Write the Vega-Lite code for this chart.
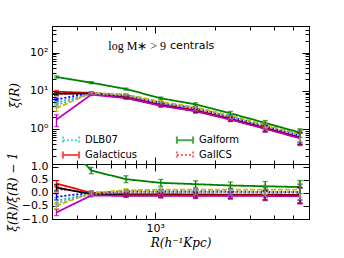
{
  "$schema": "https://vega.github.io/schema/vega-lite/v6.json",
  "padding": {"left": 5, "top": 25, "right": 35, "bottom": 5},
  "background": "white",
  "spacing": 0,
  "bounds": "flush",
  "datasets": {
    "d": [
      {"s":"DLB07","x":316,"xi":4.9,"xe":0.39,"r":-0.3,"re":0.12},
      {"s":"DLB07","x":474,"xi":8.36,"xe":0.42,"r":-0.05,"re":0.06},
      {"s":"DLB07","x":711,"xi":7.3,"xe":0.44,"r":0.0,"re":0.06},
      {"s":"DLB07","x":1067,"xi":4.7,"xe":0.38,"r":0.02,"re":0.08},
      {"s":"DLB07","x":1600,"xi":3.37,"xe":0.34,"r":0.02,"re":0.1},
      {"s":"DLB07","x":2400,"xi":2.04,"xe":0.24,"r":0.02,"re":0.12},
      {"s":"DLB07","x":3600,"xi":1.15,"xe":0.21,"r":0.0,"re":0.18},
      {"s":"DLB07","x":5400,"xi":0.65,"xe":0.23,"r":0.0,"re":0.3},
      {"s":"Galacticus","x":316,"xi":9.45,"xe":0.76,"r":0.35,"re":0.12},
      {"s":"Galacticus","x":474,"xi":8.8,"xe":0.44,"r":0.0,"re":0.06},
      {"s":"Galacticus","x":711,"xi":6.9,"xe":0.41,"r":-0.05,"re":0.06},
      {"s":"Galacticus","x":1067,"xi":4.37,"xe":0.35,"r":-0.05,"re":0.08},
      {"s":"Galacticus","x":1600,"xi":3.1,"xe":0.31,"r":-0.06,"re":0.1},
      {"s":"Galacticus","x":2400,"xi":1.86,"xe":0.22,"r":-0.07,"re":0.12},
      {"s":"Galacticus","x":3600,"xi":1.07,"xe":0.19,"r":-0.07,"re":0.18},
      {"s":"Galacticus","x":5400,"xi":0.6,"xe":0.21,"r":-0.08,"re":0.3},
      {"s":"GalICS","x":316,"xi":8.0,"xe":0.64,"r":0.15,"re":0.12},
      {"s":"GalICS","x":474,"xi":8.8,"xe":0.44,"r":0.0,"re":0.06},
      {"s":"GalICS","x":711,"xi":6.7,"xe":0.4,"r":-0.08,"re":0.06},
      {"s":"GalICS","x":1067,"xi":4.23,"xe":0.34,"r":-0.08,"re":0.08},
      {"s":"GalICS","x":1600,"xi":2.97,"xe":0.3,"r":-0.1,"re":0.1},
      {"s":"GalICS","x":2400,"xi":1.8,"xe":0.22,"r":-0.1,"re":0.12},
      {"s":"GalICS","x":3600,"xi":1.03,"xe":0.19,"r":-0.1,"re":0.18},
      {"s":"GalICS","x":5400,"xi":0.585,"xe":0.2,"r":-0.1,"re":0.3},
      {"s":"Lgalaxies","x":316,"xi":8.4,"xe":0.67,"r":0.2,"re":0.12},
      {"s":"Lgalaxies","x":474,"xi":8.36,"xe":0.42,"r":-0.05,"re":0.06},
      {"s":"Lgalaxies","x":711,"xi":6.57,"xe":0.39,"r":-0.1,"re":0.06},
      {"s":"Lgalaxies","x":1067,"xi":4.14,"xe":0.33,"r":-0.1,"re":0.08},
      {"s":"Lgalaxies","x":1600,"xi":2.97,"xe":0.3,"r":-0.1,"re":0.1},
      {"s":"Lgalaxies","x":2400,"xi":1.8,"xe":0.22,"r":-0.1,"re":0.12},
      {"s":"Lgalaxies","x":3600,"xi":1.03,"xe":0.19,"r":-0.1,"re":0.18},
      {"s":"Lgalaxies","x":5400,"xi":0.585,"xe":0.2,"r":-0.1,"re":0.3},
      {"s":"Morgana","x":316,"xi":5.95,"xe":0.48,"r":-0.15,"re":0.12},
      {"s":"Morgana","x":474,"xi":8.8,"xe":0.44,"r":0.0,"re":0.06},
      {"s":"Morgana","x":711,"xi":7.67,"xe":0.46,"r":0.05,"re":0.06},
      {"s":"Morgana","x":1067,"xi":4.83,"xe":0.39,"r":0.05,"re":0.08},
      {"s":"Morgana","x":1600,"xi":3.47,"xe":0.35,"r":0.05,"re":0.1},
      {"s":"Morgana","x":2400,"xi":2.1,"xe":0.25,"r":0.05,"re":0.12},
      {"s":"Morgana","x":3600,"xi":1.18,"xe":0.21,"r":0.03,"re":0.18},
      {"s":"Morgana","x":5400,"xi":0.67,"xe":0.23,"r":0.03,"re":0.3},
      {"s":"SAG","x":316,"xi":1.75,"xe":0.6,"r":-0.75,"re":0.12},
      {"s":"SAG","x":474,"xi":7.92,"xe":0.4,"r":-0.1,"re":0.06},
      {"s":"SAG","x":711,"xi":6.42,"xe":0.39,"r":-0.12,"re":0.06},
      {"s":"SAG","x":1067,"xi":4.05,"xe":0.32,"r":-0.12,"re":0.08},
      {"s":"SAG","x":1600,"xi":2.9,"xe":0.29,"r":-0.12,"re":0.1},
      {"s":"SAG","x":2400,"xi":1.76,"xe":0.21,"r":-0.12,"re":0.12},
      {"s":"SAG","x":3600,"xi":1.01,"xe":0.18,"r":-0.12,"re":0.18},
      {"s":"SAG","x":5400,"xi":0.565,"xe":0.2,"r":-0.13,"re":0.3},
      {"s":"SAGE","x":316,"xi":3.5,"xe":0.6,"r":-0.5,"re":0.12},
      {"s":"SAGE","x":474,"xi":8.8,"xe":0.44,"r":0.0,"re":0.06},
      {"s":"SAGE","x":711,"xi":8.03,"xe":0.48,"r":0.1,"re":0.06},
      {"s":"SAGE","x":1067,"xi":5.15,"xe":0.41,"r":0.12,"re":0.08},
      {"s":"SAGE","x":1600,"xi":3.7,"xe":0.37,"r":0.12,"re":0.1},
      {"s":"SAGE","x":2400,"xi":2.24,"xe":0.27,"r":0.12,"re":0.12},
      {"s":"SAGE","x":3600,"xi":1.29,"xe":0.23,"r":0.12,"re":0.18},
      {"s":"SAGE","x":5400,"xi":0.73,"xe":0.26,"r":0.12,"re":0.3},
      {"s":"ySAM","x":316,"xi":4.2,"xe":0.5,"r":-0.4,"re":0.12},
      {"s":"ySAM","x":474,"xi":8.36,"xe":0.42,"r":-0.05,"re":0.06},
      {"s":"ySAM","x":711,"xi":7.52,"xe":0.45,"r":0.03,"re":0.06},
      {"s":"ySAM","x":1067,"xi":4.74,"xe":0.38,"r":0.03,"re":0.08},
      {"s":"ySAM","x":1600,"xi":3.4,"xe":0.34,"r":0.03,"re":0.1},
      {"s":"ySAM","x":2400,"xi":2.06,"xe":0.25,"r":0.03,"re":0.12},
      {"s":"ySAM","x":3600,"xi":1.18,"xe":0.21,"r":0.03,"re":0.18},
      {"s":"ySAM","x":5400,"xi":0.67,"xe":0.23,"r":0.03,"re":0.3},
      {"s":"Galform","x":316,"xi":23,"xe":1.4,"r":2.3,"re":0.2},
      {"s":"Galform","x":474,"xi":16.3,"xe":1.0,"r":0.85,"re":0.12},
      {"s":"Galform","x":711,"xi":11.1,"xe":0.67,"r":0.52,"re":0.13},
      {"s":"Galform","x":1067,"xi":6.35,"xe":0.5,"r":0.38,"re":0.13},
      {"s":"Galform","x":1600,"xi":4.4,"xe":0.44,"r":0.33,"re":0.13},
      {"s":"Galform","x":2400,"xi":2.56,"xe":0.31,"r":0.28,"re":0.13},
      {"s":"Galform","x":3600,"xi":1.44,"xe":0.22,"r":0.25,"re":0.18},
      {"s":"Galform","x":5400,"xi":0.8,"xe":0.2,"r":0.22,"re":0.25}
    ],
    "ann": [{"x":1134,"y":145,"a":"log M∗ > 9","b":"centrals"}]
  },
  "config": {
    "view": {"stroke": "black", "strokeWidth": 1},
    "axis": {"domain": false, "grid": false, "labelFont": "DejaVu Sans", "labelFontSize": 11, "labelColor": "black", "tickColor": "black", "tickWidth": 1, "titleFont": "DejaVu Serif", "titleFontStyle": "italic", "titleFontWeight": "normal", "titleFontSize": 12, "titleColor": "black"},
    "legend": {"labelFont": "DejaVu Sans", "labelFontSize": 10, "labelColor": "black"}
  },
  "vconcat": [
    {
      "width": 257,
      "height": 138,
      "layer": [
        {
          "data": {"name": "d"},
          "mark": {"type": "line", "strokeWidth": 1.8, "clip": true},
          "encoding": {
            "x": {"field": "x", "type": "quantitative", "scale": {"type": "log", "domain": [300, 6000], "nice": false},
              "axis": {"orient": "bottom", "title": null, "labels": false, "values": [300,400,500,600,700,800,900,1000,2000,3000,4000,5000,6000],
                "tickSize": {"condition": {"test": "datum.value == 1000", "value": -7}, "value": -4}}},
            "y": {"field": "xi", "type": "quantitative", "scale": {"type": "log", "domain": [0.12, 500], "nice": false},
              "axis": {"orient": "left", "title": "ξ(R)", "titlePadding": 8,
                "values": [0.2,0.3,0.4,0.5,0.6,0.7,0.8,0.9,1,2,3,4,5,6,7,8,9,10,20,30,40,50,60,70,80,90,100,200,300,400,500],
                "labelExpr": "datum.value == 1 ? '10⁰' : datum.value == 10 ? '10¹' : datum.value == 100 ? '10²' : ''",
                "tickSize": {"condition": {"test": "datum.value == 1 || datum.value == 10 || datum.value == 100", "value": -7}, "value": -4},
                "labelPadding": 11}},
            "color": {"field": "s", "type": "nominal",
              "scale": {"domain": ["DLB07","Galacticus","GalICS","Lgalaxies","Morgana","SAG","SAGE","ySAM","Galform"],
                        "range": ["#00bfbf","#ff0000","#ff2020","#000000","#0000ff","#c000c0","#c0c000","#999999","#008000"]},
              "legend": {"title": null, "orient": "none", "legendX": 12, "legendY": 107, "columns": 2, "columnPadding": 34, "rowPadding": -3,
                "values": ["DLB07","Galacticus","Galform","GalICS"],
                "symbolType": "M-1.35,0L1.35,0M-1.35,-0.6L-1.35,0.6M1.35,-0.6L1.35,0.6", "symbolSize": 144, "symbolStrokeWidth": 2, "labelOffset": 7}},
            "strokeDash": {"field": "s", "type": "nominal",
              "scale": {"domain": ["DLB07","Galacticus","GalICS","Lgalaxies","Morgana","SAG","SAGE","ySAM","Galform"],
                        "range": [[2,2],[1,0],[2,2],[1,0],[2,2],[1,0],[5,2],[2,2],[1,0]]},
              "legend": {"title": null, "orient": "none", "legendX": 12, "legendY": 107, "columns": 2, "columnPadding": 34, "rowPadding": -3,
                "values": ["DLB07","Galacticus","Galform","GalICS"],
                "symbolType": "M-1.35,0L1.35,0M-1.35,-0.6L-1.35,0.6M1.35,-0.6L1.35,0.6", "symbolSize": 144, "symbolStrokeWidth": 2, "labelOffset": 7}}
          }
        },
        {
          "data": {"name": "d"},
          "mark": {"type": "errorbar", "ticks": {"size": 5}, "thickness": 1.3},
          "encoding": {
            "x": {"field": "x", "type": "quantitative", "axis": null},
            "y": {"field": "xi", "type": "quantitative", "axis": null},
            "yError": {"field": "xe"},
            "color": {"field": "s", "type": "nominal"}
          }
        },
        {
          "data": {"name": "ann"},
          "mark": {"type": "text", "align": "right", "baseline": "middle", "font": "Liberation Serif", "fontSize": 12, "color": "black"},
          "encoding": {
            "x": {"field": "x", "type": "quantitative",
              "axis": {"orient": "top", "title": null, "labels": false, "values": [300,400,500,600,700,800,900,1000,2000,3000,4000,5000,6000],
                "tickSize": {"condition": {"test": "datum.value == 1000", "value": -7}, "value": -4}}},
            "y": {"field": "y", "type": "quantitative",
              "axis": {"orient": "right", "title": null, "labels": false,
                "values": [0.2,0.3,0.4,0.5,0.6,0.7,0.8,0.9,1,2,3,4,5,6,7,8,9,10,20,30,40,50,60,70,80,90,100,200,300,400,500],
                "tickSize": {"condition": {"test": "datum.value == 1 || datum.value == 10 || datum.value == 100", "value": -7}, "value": -4}}},
            "text": {"field": "a"}
          }
        },
        {
          "data": {"name": "ann"},
          "mark": {"type": "text", "align": "left", "baseline": "middle", "dx": 4, "font": "DejaVu Sans", "fontSize": 11, "color": "black"},
          "encoding": {
            "x": {"field": "x", "type": "quantitative", "axis": null},
            "y": {"field": "y", "type": "quantitative", "axis": null},
            "text": {"field": "b"}
          }
        }
      ]
    },
    {
      "width": 257,
      "height": 55,
      "layer": [
        {
          "mark": {"type": "rule", "color": "black", "strokeWidth": 1},
          "encoding": {"y": {"datum": 0, "type": "quantitative", "axis": null}}
        },
        {
          "data": {"name": "d"},
          "mark": {"type": "line", "strokeWidth": 1.8, "clip": true},
          "encoding": {
            "x": {"field": "x", "type": "quantitative", "scale": {"type": "log", "domain": [300, 6000], "nice": false},
              "axis": {"orient": "bottom", "title": "R(h⁻¹Kpc)", "titlePadding": 4, "values": [300,400,500,600,700,800,900,1000,2000,3000,4000,5000,6000],
                "labelExpr": "datum.value == 1000 ? '10³' : ''", "labelPadding": 10,
                "tickSize": {"condition": {"test": "datum.value == 1000", "value": -7}, "value": -4}}},
            "y": {"field": "r", "type": "quantitative", "scale": {"domain": [-1.0, 1.1], "nice": false, "zero": false},
              "axis": {"orient": "left", "title": "ξ(R)/ξ̄(R) − 1", "titlePadding": 2, "values": [-1,-0.5,0,0.5,1],
                "labelExpr": "replace(format(datum.value, '.1f'), '-', '−')", "labelPadding": 10,
                "tickSize": {"condition": {"test": "datum.value > -2", "value": -6}, "value": -6}}},
            "color": {"field": "s", "type": "nominal"},
            "strokeDash": {"field": "s", "type": "nominal"}
          }
        },
        {
          "data": {"name": "d"},
          "transform": [{"filter": "datum.r < 1.1"}],
          "mark": {"type": "errorbar", "ticks": {"size": 5}, "thickness": 1.3},
          "encoding": {
            "x": {"field": "x", "type": "quantitative",
              "axis": {"orient": "top", "title": null, "labels": false, "values": [300,400,500,600,700,800,900,1000,2000,3000,4000,5000,6000],
                "tickSize": {"condition": {"test": "datum.value == 1000", "value": -7}, "value": -4}}},
            "y": {"field": "r", "type": "quantitative",
              "axis": {"orient": "right", "title": null, "labels": false, "values": [-1,-0.5,0,0.5,1], "tickSize": -6}},
            "yError": {"field": "re"},
            "color": {"field": "s", "type": "nominal"}
          }
        }
      ]
    }
  ]
}
